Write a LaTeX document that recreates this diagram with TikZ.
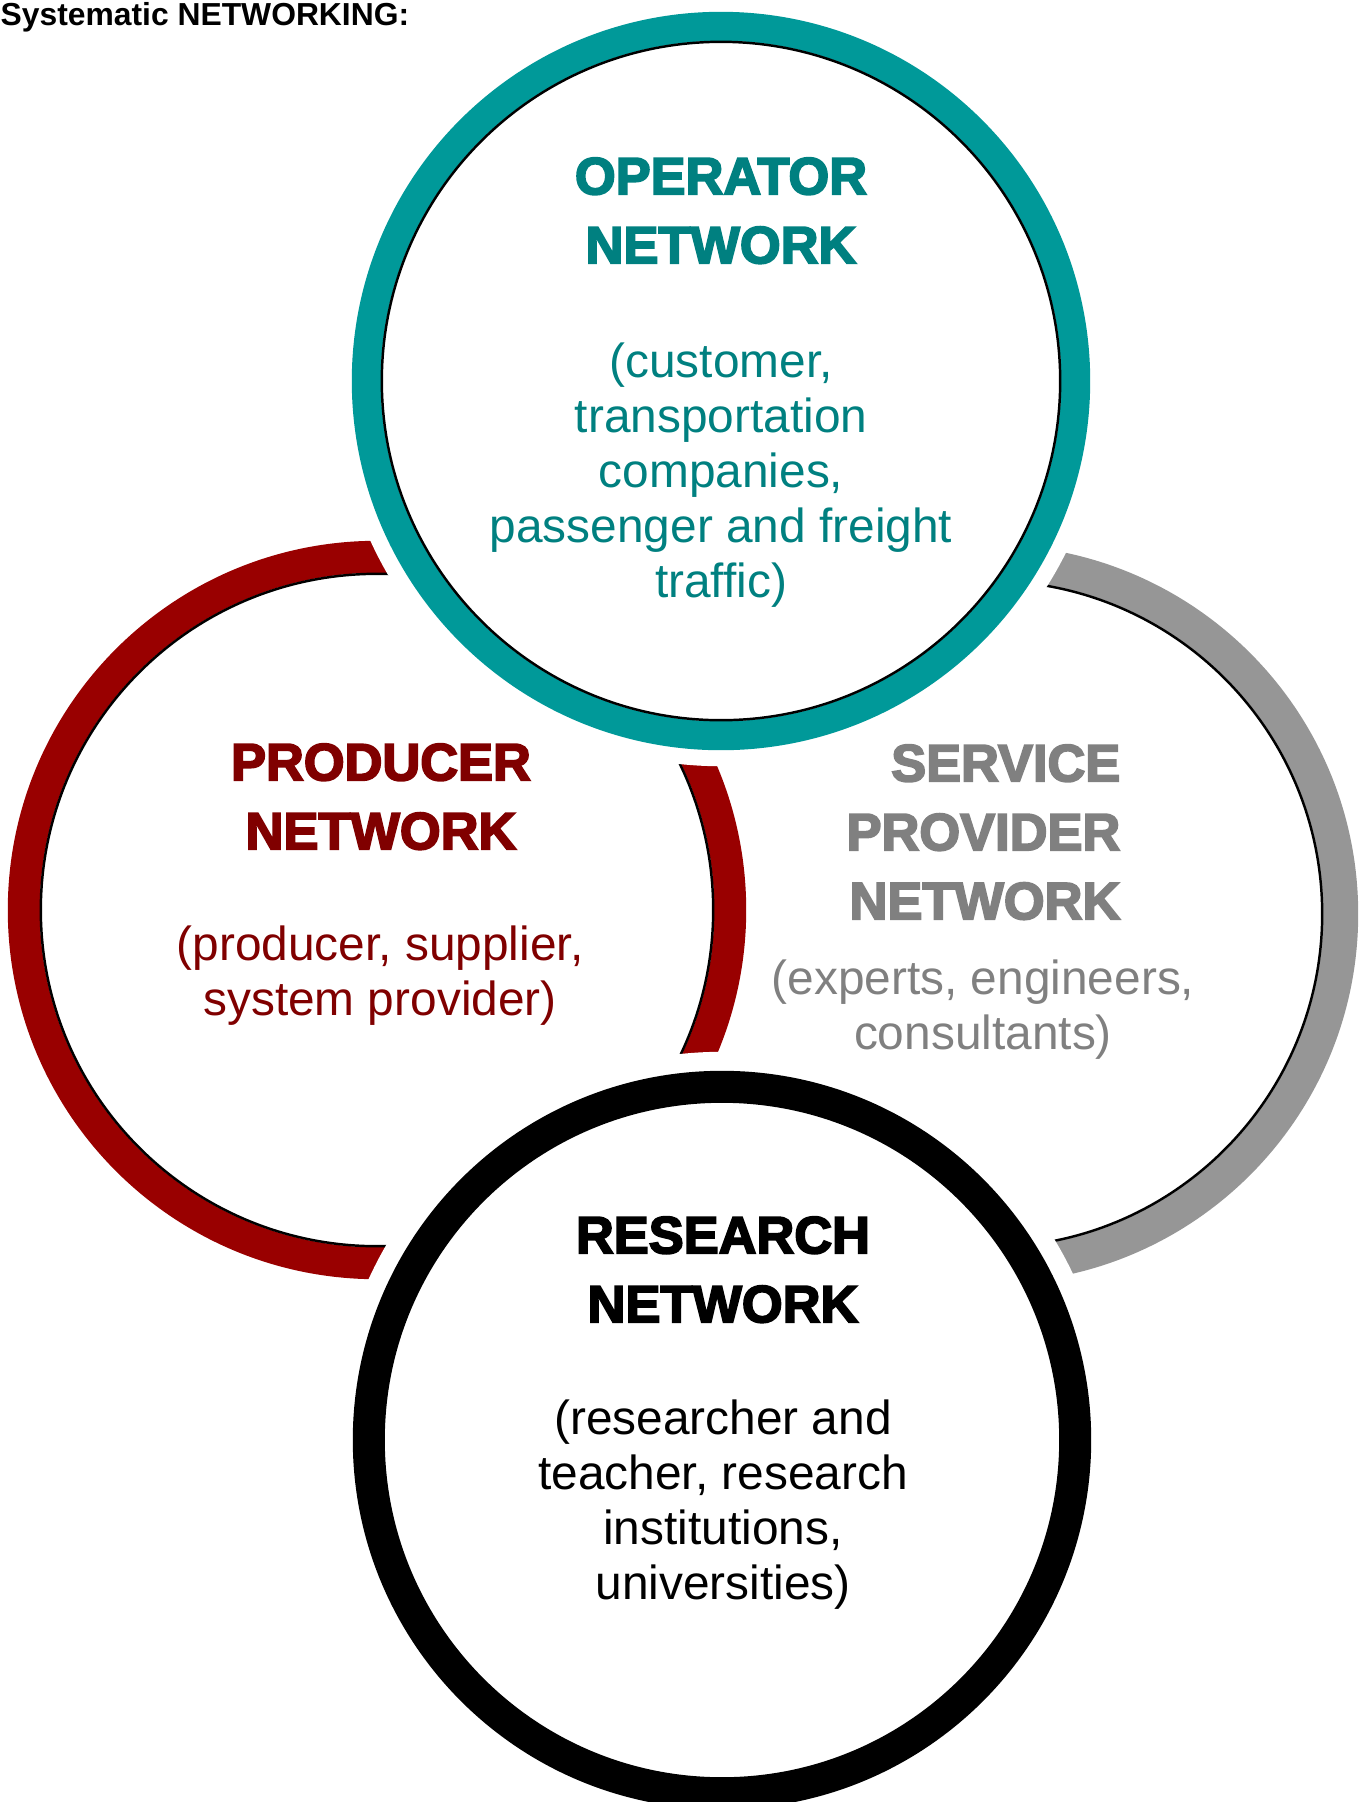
\documentclass[tikz,border=0pt]{standalone}
\usepackage{fontspec}
\setmainfont{Liberation Sans}
\newfontfamily\headfont{Liberation Sans Bold}[FakeBold=3.5]
\usepackage{tikz}

\definecolor{opring}{RGB}{0,153,153}
\definecolor{optext}{RGB}{0,128,128}
\definecolor{prring}{RGB}{153,0,0}
\definecolor{prtext}{RGB}{128,0,0}
\definecolor{svring}{RGB}{150,150,150}
\definecolor{svtext}{RGB}{128,128,128}

\tikzset{
	head/.style={font=\headfont\fontsize{14.9}{19.6}\selectfont, align=center, anchor=north, inner sep=0pt},
	body/.style={font=\fontsize{13.6}{15.65}\selectfont, align=center, anchor=north, inner sep=0pt},
	rim/.style={line width=0.7pt, black}
}

\begin{document}
\begin{tikzpicture}[x=0.01cm,y=-0.01cm]

	\useasboundingbox (0,0) rectangle (1367,1802);

	\coordinate (service) at (989,914);
	\coordinate (producer) at (377,910);
	\coordinate (operator) at (721,381);
	\coordinate (research) at (722,1440);

	% service provider ring, lowest
	\draw[line width=0.35cm, svring] (service) circle (3.515cm);
	\draw[rim] (service) circle (3.33cm);

	% producer ring
	\fill[white] (producer) circle (3.69cm);
	\draw[line width=0.32cm, prring] (producer) circle (3.53cm);
	\draw[rim] (producer) circle (3.36cm);

	% operator ring, with white gap
	\fill[white] (operator) circle (3.85cm);
	\draw[line width=0.29cm, opring] (operator) circle (3.545cm);
	\draw[rim] (operator) circle (3.39cm);

	% research ring, with white gap
	\fill[white] (research) circle (3.88cm);
	\draw[line width=0.32cm, black] (research) circle (3.53cm);

	\node[anchor=north west, inner sep=0pt, font=\bfseries\fontsize{9.05}{11}\selectfont] (caption) at (0,2) {Systematic NETWORKING:};

	\node[head, optext] (ophead) at (721,157) {OPERATOR\\NETWORK};
	\node[body, optext] (opbody) at (721,342) {(customer,\\transportation\\companies,\\passenger and freight\\traffic)};

	\node[head, prtext] (prhead) at (381,743) {PRODUCER\\NETWORK};
	\node[body, prtext] (prbody) at (380,925) {(producer, supplier,\\system provider)};

	\node[head, svtext, align=right, anchor=north east] (svhead) at (1121,744) {SERVICE\\PROVIDER\\NETWORK};
	\node[body, svtext] (svbody) at (983,959) {(experts, engineers,\\consultants)};

	\node[head] (rshead) at (723,1216) {RESEARCH\\NETWORK};
	\node[body] (rsbody) at (723,1399) {(researcher and\\teacher, research\\institutions,\\universities)};

\end{tikzpicture}
\end{document}
